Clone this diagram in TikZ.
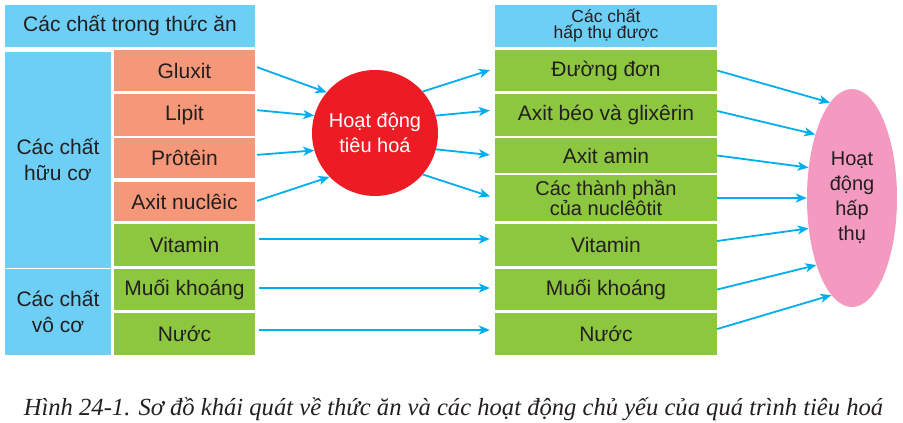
\documentclass[tikz,border=0pt]{standalone}
\usepackage{fontspec}
\setmainfont{Liberation Sans}
\newfontfamily\capfont{Liberation Serif}
\usetikzlibrary{arrows.meta,shapes.geometric}
\definecolor{skyblue}{HTML}{6ECFF6}
\definecolor{salmon}{HTML}{F5987A}
\definecolor{leaf}{HTML}{8DC63F}
\definecolor{redball}{HTML}{ED1C24}
\definecolor{pinkegg}{HTML}{F49AC1}
\definecolor{arrowblue}{HTML}{00AEEF}
\definecolor{ink}{HTML}{231F20}
\begin{document}
\begin{tikzpicture}[x=1pt,y=-1pt,
    box/.style={inner sep=0pt,text=ink,align=center,font=\fontsize{21}{26}\selectfont},
    bluebox/.style={box,fill=skyblue},
    orbox/.style={box,fill=salmon,minimum width=141pt},
    grbox/.style={box,fill=leaf},
    arr/.style={draw=arrowblue,line width=1.8pt,-{Stealth[length=11pt,width=9pt,inset=3pt]}}]
        \useasboundingbox (0,0) rectangle (903,423);
        %%left column
          \node[bluebox,minimum width=250pt,minimum height=42pt] (thucan) at (130,26) {Các chất trong thức ăn};
          \node[bluebox,minimum width=106pt,minimum height=216pt] (huuco) at (58,160) {Các chất\\hữu cơ};
          \node[bluebox,minimum width=106pt,minimum height=86pt] (voco) at (58,312) {Các chất\\vô cơ};
          \node[orbox,minimum height=41pt] (gluxit) at (184.5,70.5) {Gluxit};
          \node[orbox,minimum height=42pt] (lipit) at (184.5,115) {Lipit};
          \node[orbox,minimum height=40pt] (protein) at (184.5,158) {Prôtêin};
          \node[orbox,minimum height=39pt] (nucleic) at (184.5,201.5) {Axit nuclêic};
          \node[grbox,minimum width=141pt,minimum height=42pt] (vitL) at (184.5,245) {Vitamin};
          \node[grbox,minimum width=141pt,minimum height=41pt] (muoiL) at (184.5,289.5) {Muối khoáng};
          \node[grbox,minimum width=141pt,minimum height=42pt] (nuocL) at (184.5,334) {Nước};

        %%digestion
          \node[circle,fill=redball,minimum size=126pt,inner sep=0pt,text=white,align=center,
                font=\fontsize{20}{25}\selectfont] (tieuhoa) at (375,133) {Hoạt động\\tiêu hoá};

        %%middle column
          \node[bluebox,minimum width=222pt,minimum height=42pt,font=\fontsize{17.5}{16}\selectfont] (hapthu) at (606,26) {Các chất\\hấp thụ được};
          \node[grbox,minimum width=222pt,minimum height=41pt] (duong) at (606,70.5) {Đường đơn};
          \node[grbox,minimum width=222pt,minimum height=42pt] (axitbeo) at (606,115) {Axit béo và glixêrin};
          \node[grbox,minimum width=222pt,minimum height=35pt] (axitamin) at (606,155.5) {Axit amin};
          \node[grbox,minimum width=222pt,minimum height=46pt,font=\fontsize{20}{18}\selectfont] (thanhphan) at (606,198) {Các thành phần\\của nuclêôtit};
          \node[grbox,minimum width=222pt,minimum height=42pt] (vitR) at (606,245) {Vitamin};
          \node[grbox,minimum width=222pt,minimum height=41pt] (muoiR) at (606,289.5) {Muối khoáng};
          \node[grbox,minimum width=222pt,minimum height=42pt] (nuocR) at (606,334) {Nước};

        %%absorption
          \node[ellipse,fill=pinkegg,minimum width=90pt,minimum height=218pt,inner sep=0pt,
                text=ink,align=center,font=\fontsize{20}{25}\selectfont] (hoatdong) at (852,198) {Hoạt\\động\\hấp\\thụ};

        %%arrows in
          \draw[arr,shorten <=2pt] ([yshift=4pt]gluxit.east) -- (tieuhoa.140);
          \draw[arr,shorten <=2pt] ([yshift=5pt]lipit.east) -- (tieuhoa.164);
          \draw[arr,shorten <=2pt] ([yshift=3pt]protein.east) -- (tieuhoa.196);
          \draw[arr,shorten <=2pt] (nucleic.east) -- (tieuhoa.224);
        %%arrows out
          \draw[arr,shorten >=5pt] (tieuhoa.41) -- ([yshift=2pt]duong.west);
          \draw[arr,shorten >=5pt] (tieuhoa.16) -- ([yshift=5pt]axitbeo.west);
          \draw[arr,shorten >=5pt] (tieuhoa.345) -- (axitamin.west);
          \draw[arr,shorten >=5pt] (tieuhoa.319) -- (thanhphan.west);
        %%straight ones
          \draw[arr,shorten <=4pt,shorten >=5pt] ([yshift=6pt]vitL.east) -- ([yshift=6pt]vitR.west);
          \draw[arr,shorten <=4pt,shorten >=5pt] ([yshift=1.5pt]muoiL.east) -- ([yshift=1.5pt]muoiR.west);
          \draw[arr,shorten <=4pt,shorten >=5pt] ([yshift=4pt]nuocL.east) -- ([yshift=4pt]nuocR.west);
        %%to absorption
          \draw[arr] (duong.east) -- (hoatdong.103);
          \draw[arr] ([yshift=4pt]axitbeo.east) -- (hoatdong.120);
          \draw[arr] (axitamin.east) -- (hoatdong.145);
          \draw[arr] (thanhphan.east) -- (hoatdong.180);
          \draw[arr] ([yshift=4pt]vitR.east) -- (hoatdong.215);
          \draw[arr] (muoiR.east) -- (hoatdong.242);
          \draw[arr] ([yshift=5pt]nuocR.east) -- (hoatdong.258);

        \node[anchor=base,text=ink,font=\capfont\itshape\fontsize{24.6}{30}\selectfont] (caption) at (453.5,415)
          {Hình 24-1. Sơ đồ khái quát về thức ăn và các hoạt động chủ yếu của quá trình tiêu hoá};
\end{tikzpicture}
\end{document}
